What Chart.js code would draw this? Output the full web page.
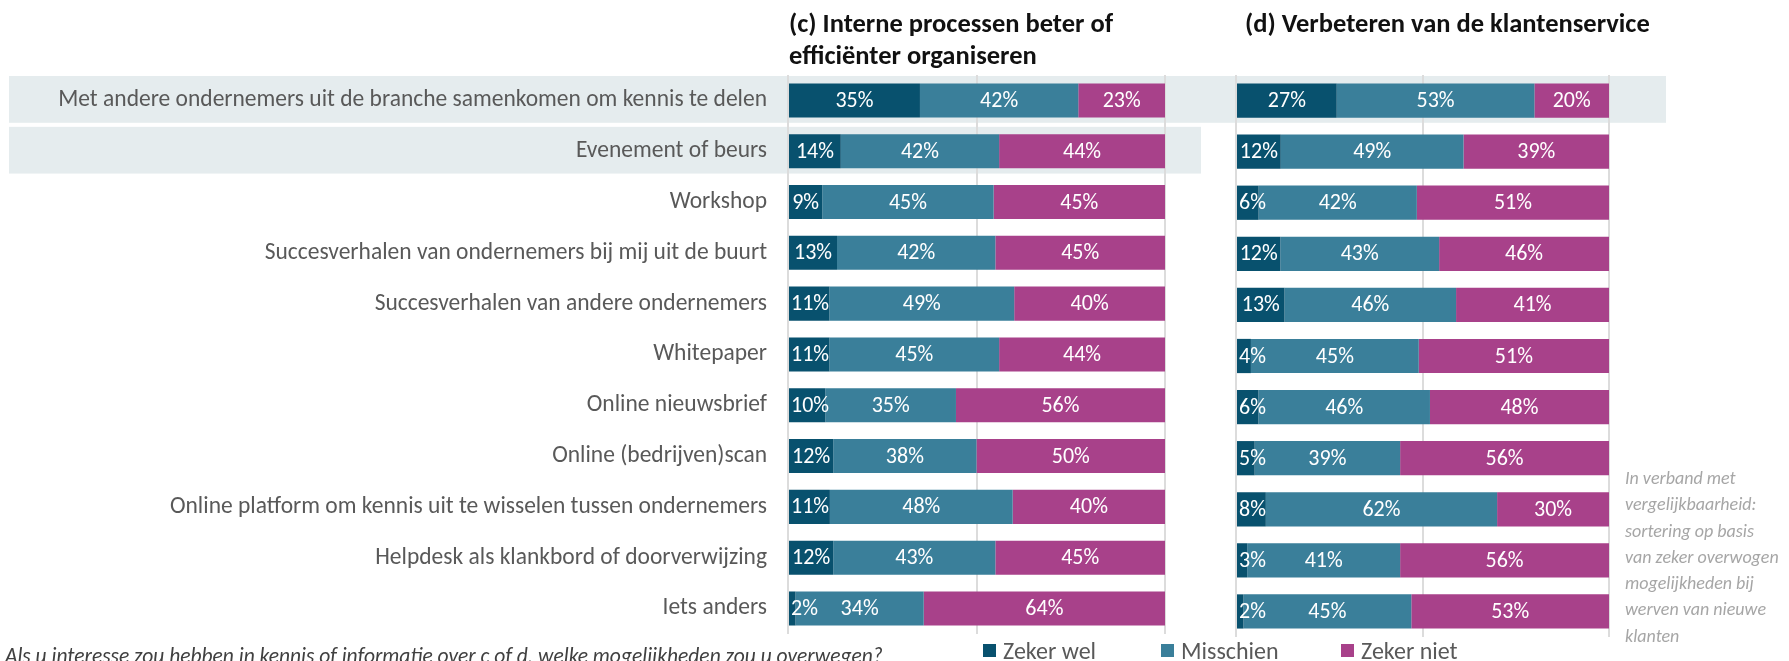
<!DOCTYPE html>
<html><head><meta charset="utf-8">
<script src="https://cdn.jsdelivr.net/npm/chart.js@4.4.1/dist/chart.umd.min.js"></script>
<style>
html,body{margin:0;padding:0;background:#fff;width:1789px;height:661px;overflow:hidden;}
#wrap{position:relative;width:1789px;height:661px;font-family:Carlito,'Liberation Sans',sans-serif;}
canvas{position:absolute;top:0;}
#cc{left:0;}
#cd{left:1200px;}
.title{position:absolute;font-weight:bold;font-size:26.5px;line-height:32px;color:#111;white-space:nowrap;}
#note{position:absolute;left:1625px;top:465px;font-style:italic;font-size:18px;line-height:26.3px;color:#a6a6a6;}
#question{position:absolute;left:5px;top:643px;font-style:italic;font-size:21.5px;color:#404040;white-space:nowrap;}
#legend{position:absolute;top:636px;left:0;font-size:24px;color:#595959;}
#legend span.item{position:absolute;white-space:nowrap;display:flex;align-items:center;}
#legend span.sw{display:inline-block;width:13px;height:13px;margin-right:7px;}
</style></head>
<body>
<div id="wrap">
<canvas id="cc" width="1789" height="661"></canvas>
<canvas id="cd" width="589" height="661"></canvas>
<div class="title" style="left:789px;top:7px;">(c) Interne processen beter of<br>efficiënter organiseren</div>
<div class="title" style="left:1245px;top:7px;">(d) Verbeteren van de klantenservice</div>
<div id="note">In verband met<br>vergelijkbaarheid:<br>sortering op basis<br>van zeker overwogen<br>mogelijkheden bij<br>werven van nieuwe<br>klanten</div>
<div id="question">Als u interesse zou hebben in kennis of informatie over c of d, welke mogelijkheden zou u overwegen?</div>
<div id="legend"></div>
</div>
<script>
const categories = [
  'Met andere ondernemers uit de branche samenkomen om kennis te delen',
  'Evenement of beurs',
  'Workshop',
  'Succesverhalen van ondernemers bij mij uit de buurt',
  'Succesverhalen van andere ondernemers',
  'Whitepaper',
  'Online nieuwsbrief',
  'Online (bedrijven)scan',
  'Online platform om kennis uit te wisselen tussen ondernemers',
  'Helpdesk als klankbord of doorverwijzing',
  'Iets anders'
];
const seriesNames = ['Zeker wel', 'Misschien', 'Zeker niet'];
const cZekerWel  = [35, 14,  9, 13, 11, 11, 10, 12, 11, 12,  2];
const cMisschien = [42, 42, 45, 42, 49, 45, 35, 38, 48, 43, 34];
const cZekerNiet = [23, 44, 45, 45, 40, 44, 56, 50, 40, 45, 64];
const dZekerWel  = [27, 12,  6, 12, 13,  4,  6,  5,  8,  3,  2];
const dMisschien = [53, 49, 42, 43, 46, 45, 46, 39, 62, 41, 45];
const dZekerNiet = [20, 39, 51, 46, 41, 51, 48, 56, 30, 56, 53];

const COLORS = ['#08516e', '#3a7f9a', '#a8418a'];
const FONT = "Carlito, 'Liberation Sans', sans-serif";
const GRID = '#dcdcdc';

function buildDatasets(series){
  const n = series[0].length;
  const sums = [];
  for(let i=0;i<n;i++){ sums.push(series.reduce((a,s)=>a+s[i],0)); }
  return series.map((s,k)=>({
    label: seriesNames[k],
    raw: s,
    data: s.map((v,i)=>v/sums[i]),
    backgroundColor: COLORS[k],
    borderWidth: 0,
    barPercentage: 0.67,
    categoryPercentage: 1.0
  }));
}

const labelPlugin = {
  id: 'segLabels',
  afterDatasetsDraw(chart){
    const ctx = chart.ctx, area = chart.chartArea;
    ctx.save();
    ctx.font = '22px ' + FONT;
    ctx.fillStyle = '#ffffff';
    ctx.textBaseline = 'middle';
    ctx.textAlign = 'left';
    chart.data.datasets.forEach((ds, di)=>{
      const meta = chart.getDatasetMeta(di);
      meta.data.forEach((bar, i)=>{
        const txt = ds.raw[i] + '%';
        const w = ctx.measureText(txt).width;
        const l = Math.min(bar.base, bar.x), r = Math.max(bar.base, bar.x);
        let x = (l + r)/2 - w/2;
        x = Math.max(x, area.left + 3);
        x = Math.min(x, area.right - 3 - w);
        ctx.fillText(txt, x, bar.y + 1);
      });
    });
    ctx.restore();
  }
};

const bandPlugin = {
  id: 'bands',
  beforeDraw(chart, args, opts){
    if(!opts || !opts.rows) return;
    const y = chart.scales.y, ctx = chart.ctx;
    const pitch = y.getPixelForValue(1) - y.getPixelForValue(0);
    ctx.save();
    ctx.fillStyle = opts.color;
    opts.rows.forEach(b=>{
      const cy = y.getPixelForValue(b.row) - 1;
      const h = pitch*0.92;
      ctx.fillRect(b.x0, cy - h/2, b.x1 - b.x0, h);
    });
    ctx.restore();
  }
};

function xScale(){
  return {
    stacked: true, min: 0, max: 1,
    ticks: { display: false, stepSize: 0.5 },
    grid: { color: GRID, lineWidth: 2, drawTicks: false },
    border: { display: false },
    afterFit: s => { s.height = 0; }
  };
}

new Chart(document.getElementById('cc'), {
  type: 'bar',
  data: { labels: categories, datasets: buildDatasets([cZekerWel, cMisschien, cZekerNiet]) },
  options: {
    indexAxis: 'y', responsive: false, animation: false, devicePixelRatio: 1,
    layout: { padding: { top: 75, bottom: 24, left: 0, right: 624 } },
    scales: {
      x: xScale(),
      y: {
        stacked: true,
        grid: { display: false },
        border: { display: false },
        ticks: { color: '#595959', font: { family: FONT, size: 23.5 }, padding: 13, autoSkip: false },
        afterFit: s => { s.width = 788; }
      }
    },
    plugins: {
      legend: { display: false }, tooltip: { enabled: false },
      bands: { color: '#e5ecee', rows: [ { row: 0, x0: 9, x1: 1666 }, { row: 1, x0: 9, x1: 1201 } ] }
    }
  },
  plugins: [bandPlugin, labelPlugin]
});

new Chart(document.getElementById('cd'), {
  type: 'bar',
  data: { labels: categories, datasets: buildDatasets([dZekerWel, dMisschien, dZekerNiet]) },
  options: {
    indexAxis: 'y', responsive: false, animation: false, devicePixelRatio: 1,
    layout: { padding: { top: 75, bottom: 24, left: 36, right: 180 } },
    scales: {
      x: xScale(),
      y: { stacked: true, display: false }
    },
    plugins: { legend: { display: false }, tooltip: { enabled: false } }
  },
  plugins: [labelPlugin]
});

// legend (HTML)
const legendX = [983, 1161, 1341];
const lg = document.getElementById('legend');
seriesNames.forEach((n,k)=>{
  const it = document.createElement('span');
  it.className = 'item';
  it.style.left = legendX[k] + 'px';
  it.innerHTML = '<span class="sw" style="background:'+COLORS[k]+'"></span>' + n;
  lg.appendChild(it);
});
</script>
</body></html>
